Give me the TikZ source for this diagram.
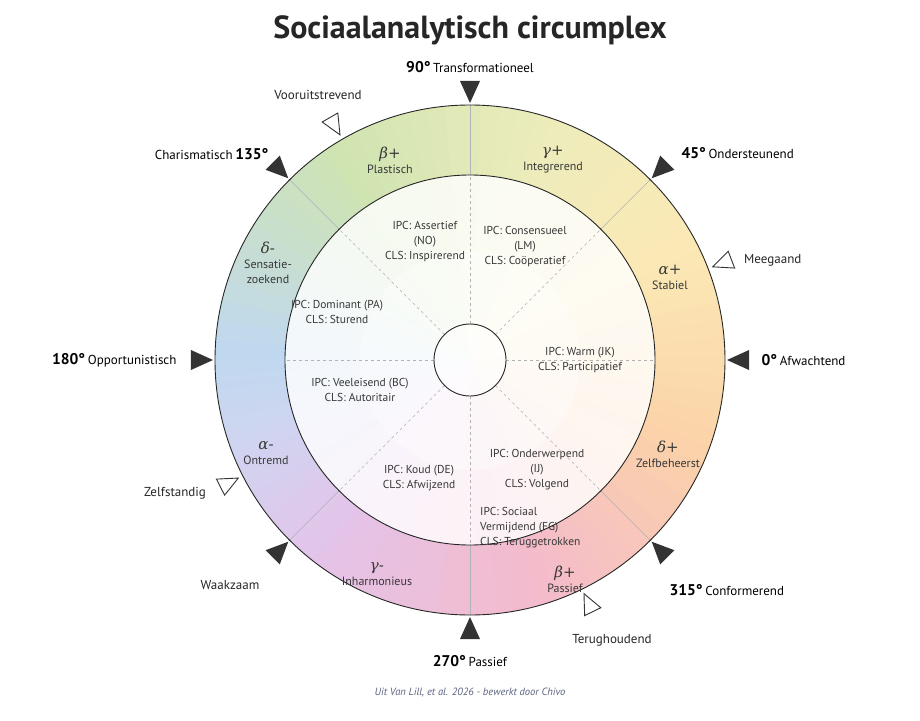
\documentclass[tikz,border=0pt]{standalone}
\usepackage{fontspec}
\setmainfont{PT Sans}
\newfontfamily\symf{DejaVu Serif}
\begin{document}
\begin{tikzpicture}[x=1pt,y=1pt,
  txt/.style={text=black!78,font=\fontsize{11.5}{15}\selectfont,align=center,inner sep=0},
  ring/.style={text=black!78,font=\fontsize{12}{15}\selectfont,align=center,inner sep=0},
  lab/.style={text=black!85,font=\fontsize{13}{15}\selectfont,inner sep=0},
  ftri/.style={fill=black!80},
  otri/.style={draw=black!80,fill=white,line width=0.9pt}]
\definecolor{cblue}{RGB}{178,208,236}
\definecolor{cgreen}{RGB}{196,222,160}
\definecolor{cyg}{RGB}{232,232,172}
\definecolor{cyel}{RGB}{250,228,165}
\definecolor{corg}{RGB}{250,200,150}
\definecolor{cpink}{RGB}{242,172,192}
\definecolor{cpur}{RGB}{222,182,228}
\definecolor{clav}{RGB}{196,204,238}
\useasboundingbox[fill=white] (-470,-360) rectangle (450,360);
% gradient ring and inner tint
\foreach \a/\b/\ca/\cb in {180/125/cblue/cgreen,125/75/cgreen/cyg,75/30/cyg/cyel,30/-20/cyel/corg,-20/-70/corg/cpink,-70/-125/cpink/cpur,-125/-160/cpur/clav,-160/-180/clav/cblue}{
  \foreach \i in {0,...,11}{
    \pgfmathsetmacro\t{\a+(\b-\a)*\i/12}
    \pgfmathsetmacro\u{\a+(\b-\a)*(\i+1)/12+(\b-\a)/abs(\b-\a)*0.4}
    \pgfmathtruncatemacro\p{100*\i/12}
    \fill[\cb!\p!\ca!82!white] (\t:185) arc[start angle=\t,end angle=\u,radius=185] -- (\u:255) arc[start angle=\u,end angle=\t,radius=255] -- cycle;
    \fill[\cb!\p!\ca!16!white] (0,0) -- (\t:185) arc[start angle=\t,end angle=\u,radius=185] -- cycle;
  }}
\fill[white,opacity=0.35] (0,0) circle (110);
% dividers
\foreach \a in {45,90,135,225,270,315}{\draw[black!30,line width=0.5pt] (\a:185) -- (\a:255);}
\foreach \a in {0,45,...,315}{\draw[black!30,dashed,line width=0.5pt] (\a:36) -- (\a:185);}
\draw[line width=0.9pt,black!85] (0,0) circle (255);
\draw[line width=0.9pt,black!85] (0,0) circle (185);
\draw[line width=0.9pt,black!85,fill=white,fill opacity=0.5] (0,0) circle (36);
% markers
\foreach \a in {0,45,...,315}{\fill[ftri,rotate=\a] (257,0) -- (279,10) -- (279,-10) -- cycle;}
\foreach \a in {120,21,207,296}{\filldraw[otri,rotate=\a] (260,0) -- (280,9) -- (280,-9) -- cycle;}
% outer labels
\node (t90) at (0,293) {\textbf{\fontsize{15.5}{15}\selectfont 90°} {\fontsize{13}{15}\selectfont Transformationeel}};
\node[anchor=west] (t45) at (208,207) {\textbf{\fontsize{15.5}{15}\selectfont 45°} {\fontsize{13}{15}\selectfont Ondersteunend}};
\node[anchor=west] (t0) at (288,0) {\textbf{\fontsize{15.5}{15}\selectfont 0°} {\fontsize{13}{15}\selectfont Afwachtend}};
\node[anchor=west] (t315) at (196,-230) {\textbf{\fontsize{15.5}{15}\selectfont 315°} {\fontsize{13}{15}\selectfont Conformerend}};
\node (t270) at (0,-301) {\textbf{\fontsize{15.5}{15}\selectfont 270°} {\fontsize{13}{15}\selectfont Passief}};
\node[anchor=east] (t180) at (-290,0) {\textbf{\fontsize{15.5}{15}\selectfont 180°} {\fontsize{13}{15}\selectfont Opportunistisch}};
\node[anchor=east] (t135) at (-198,206) {{\fontsize{13}{15}\selectfont Charismatisch} \textbf{\fontsize{15.5}{15}\selectfont 135°}};
\node[lab] (t225) at (-240,-225) {Waakzaam};
\node[lab] (vo) at (-152,265) {Vooruitstrevend};
\node[lab,anchor=west] (me) at (274,100) {Meegaand};
\node[lab] (ze) at (-295,-133) {Zelfstandig};
\node[lab] (te) at (142,-280) {Terughoudend};
% ring labels
\node[ring] (bp) at (-80,200) {{\symf\itshape\fontsize{15}{16}\selectfont β+}\\Plastisch};
\node[ring] (gp) at (83,200) {{\symf\itshape\fontsize{15}{16}\selectfont γ+}\\Integrerend};
\node[ring] (ap) at (200,83) {{\symf\itshape\fontsize{15}{16}\selectfont α+}\\Stabiel};
\node[ring] (dp) at (198,-94) {{\symf\itshape\fontsize{15}{16}\selectfont δ+}\\Zelfbeheerst};
\node[ring] (bm) at (95,-219) {{\symf\itshape\fontsize{15}{16}\selectfont β+}\\Passief};
\node[ring] (gm) at (-93,-214) {{\symf\itshape\fontsize{15}{16}\selectfont γ-}\\Inharmonieus};
\node[ring] (am) at (-204,-93) {{\symf\itshape\fontsize{15}{16}\selectfont α-}\\Ontremd};
\node[ring] (dm) at (-202,97) {{\symf\itshape\fontsize{15}{16}\selectfont δ-}\\Sensatie-\\zoekend};
% inner labels
\node[txt] (i1) at (-45,118) {IPC: Assertief\\(NO)\\CLS: Inspirerend};
\node[txt] (i2) at (55,113) {IPC: Consensueel\\(LM)\\CLS: Coöperatief};
\node[txt] (i3) at (-133,48) {IPC: Dominant (PA)\\CLS: Sturend};
\node[txt] (i4) at (110,0) {IPC: Warm (JK)\\CLS: Participatief};
\node[txt] (i5) at (-110,-30) {IPC: Veeleisend (BC)\\CLS: Autoritair};
\node[txt] (i6) at (-51,-118) {IPC: Koud (DE)\\CLS: Afwijzend};
\node[txt] (i7) at (67,-110) {IPC: Onderwerpend\\(IJ)\\CLS: Volgend};
\node[txt,align=left,anchor=north west] (i8) at (10,-147) {IPC: Sociaal\\Vermijdend (FG)\\CLS: Teruggetrokken};
% title and footer
\node[font=\fontsize{32}{34}\selectfont\bfseries,text=black!85] (title) at (0,330) {Sociaalanalytisch circumplex};
\node[font=\fontsize{10.5}{12}\selectfont\itshape,text={rgb,255:red,90;green,100;blue,130}] (foot) at (0,-333) {Uit Van Lill, et al. 2026 - bewerkt door Chivo};
\end{tikzpicture}
\end{document}
